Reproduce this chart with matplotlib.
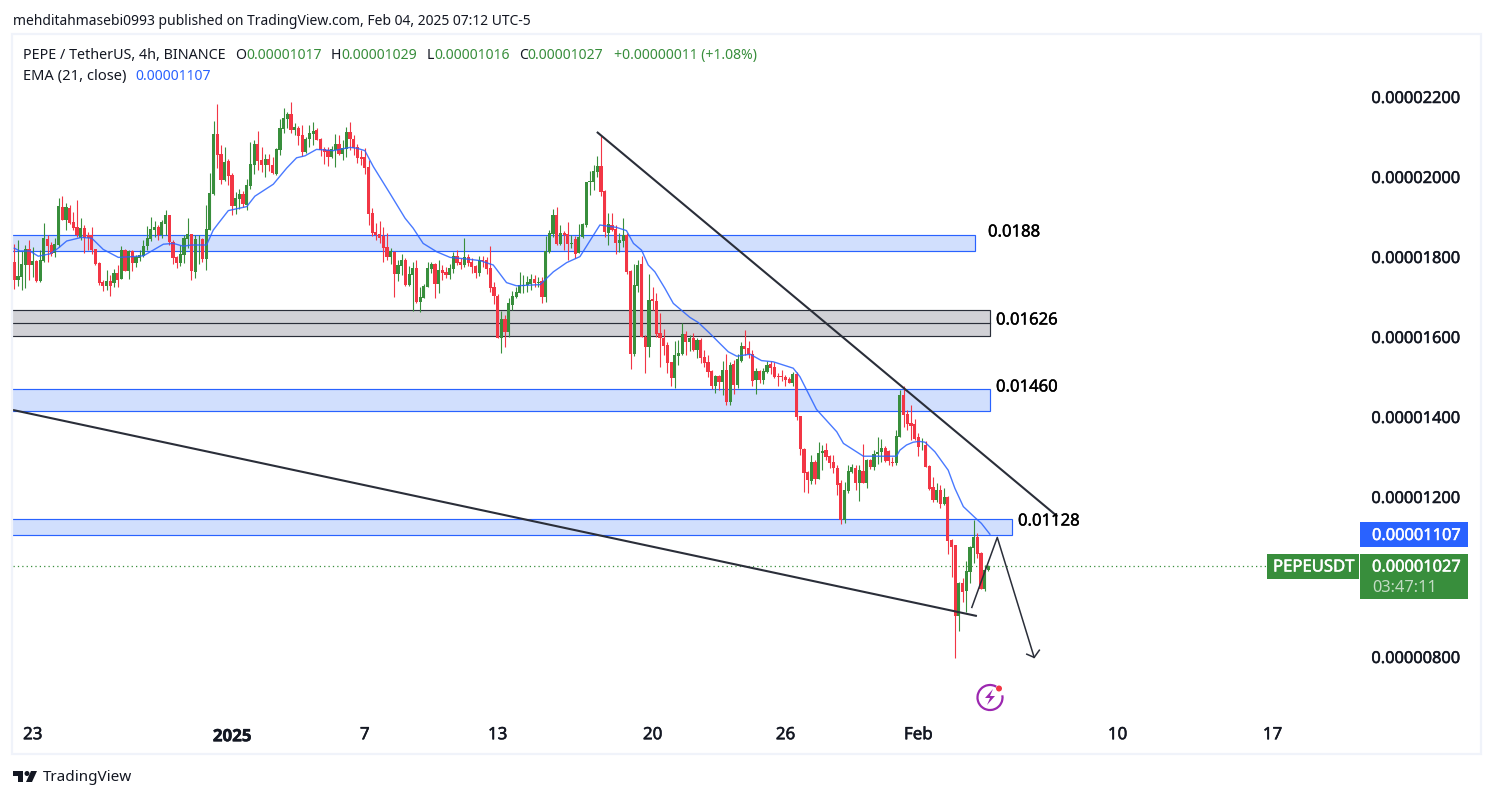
import matplotlib
matplotlib.use("Agg")
import numpy as np
import matplotlib.pyplot as plt
import matplotlib.patheffects as pe
from matplotlib.patches import Rectangle, Circle, Polygon, Arc

plt.rcParams['font.family'] = ['Noto Sans', 'DejaVu Sans']

# 4h candles, prices in units of 0.00000001
opens = [1788, 1742, 1751, 1780, 1820, 1780, 1790, 1740, 1790, 1845,
         1830, 1811, 1830, 1925, 1892, 1922, 1887, 1875, 1847, 1872,
         1854, 1854, 1820, 1785, 1737, 1727, 1740, 1735, 1760, 1745,
         1817, 1765, 1815, 1785, 1797, 1802, 1827, 1845, 1867, 1875,
         1854, 1882, 1905, 1837, 1800, 1785, 1805, 1845, 1857, 1762,
         1844, 1845, 1795, 1867, 1957, 2107, 2057, 1992, 2040, 2005,
         1927, 1945, 1957, 1930, 1977, 2030, 2082, 2042, 2030, 2045,
         2030, 2007, 2067, 2120, 2145, 2157, 2117, 2122, 2105, 2062,
         2095, 2107, 2117, 2095, 2069, 2067, 2050, 2067, 2082, 2057,
         2070, 2112, 2095, 2075, 2050, 2050, 2025, 1910, 1862, 1857,
         1852, 1825, 1800, 1812, 1757, 1777, 1792, 1730, 1755, 1772,
         1687, 1697, 1725, 1770, 1782, 1732, 1767, 1762, 1755, 1770,
         1802, 1787, 1780, 1800, 1787, 1777, 1760, 1792, 1792, 1772,
         1725, 1702, 1597, 1645, 1612, 1680, 1700, 1710, 1727, 1730,
         1732, 1745, 1736, 1740, 1700, 1812, 1857, 1905, 1832, 1860,
         1857, 1832, 1845, 1810, 1850, 1880, 1987, 1987, 2012, 2027,
         1965, 1860, 1880, 1870, 1835, 1840, 1855, 1765, 1557, 1727,
         1782, 1600, 1575, 1695, 1690, 1610, 1597, 1580, 1537, 1497,
         1552, 1557, 1607, 1587, 1597, 1567, 1592, 1550, 1537, 1515,
         1477, 1502, 1487, 1517, 1437, 1532, 1480, 1540, 1577, 1572,
         1557, 1492, 1515, 1492, 1512, 1532, 1525, 1502, 1502, 1500,
         1495, 1485, 1507, 1402, 1320, 1262, 1240, 1287, 1245, 1310,
         1317, 1302, 1287, 1272, 1235, 1142, 1215, 1262, 1272, 1235,
         1265, 1235, 1292, 1275, 1307, 1312, 1322, 1315, 1287, 1285,
         1350, 1455, 1407, 1385, 1382, 1350, 1329, 1330, 1277, 1225,
         1192, 1217, 1182, 1200, 1092, 1079, 902, 985, 965, 1012,
         1072, 1100, 1060, 970, 1017]
highs = [1832, 1842, 1814, 1830, 1842, 1826, 1792, 1817, 1885, 1854,
         1838, 1847, 1947, 1952, 1934, 1930, 1912, 1942, 1897, 1880,
         1862, 1875, 1820, 1787, 1742, 1767, 1755, 1770, 1780, 1827,
         1820, 1817, 1817, 1805, 1817, 1842, 1877, 1900, 1890, 1880,
         1892, 1917, 1905, 1842, 1802, 1830, 1855, 1897, 1857, 1855,
         1855, 1848, 1930, 2010, 2140, 2182, 2080, 2075, 2045, 2009,
         1963, 1970, 1965, 1995, 2087, 2092, 2115, 2075, 2057, 2057,
         2051, 2072, 2145, 2172, 2162, 2187, 2134, 2127, 2130, 2101,
         2130, 2137, 2122, 2097, 2076, 2076, 2077, 2107, 2105, 2092,
         2125, 2137, 2105, 2082, 2067, 2072, 2042, 1922, 1884, 1890,
         1876, 1860, 1822, 1814, 1792, 1807, 1797, 1777, 1787, 1792,
         1726, 1732, 1787, 1787, 1785, 1792, 1780, 1776, 1782, 1813,
         1817, 1797, 1847, 1807, 1797, 1780, 1802, 1802, 1801, 1827,
         1738, 1707, 1665, 1655, 1697, 1715, 1726, 1762, 1755, 1752,
         1757, 1755, 1751, 1751, 1852, 1867, 1920, 1925, 1880, 1864,
         1887, 1855, 1852, 1882, 1885, 1987, 2015, 2030, 2052, 2102,
         1967, 1909, 1910, 1880, 1859, 1897, 1860, 1767, 1782, 1792,
         1802, 1605, 1757, 1725, 1709, 1660, 1620, 1588, 1538, 1590,
         1592, 1635, 1615, 1605, 1609, 1597, 1597, 1567, 1555, 1517,
         1505, 1505, 1540, 1557, 1538, 1542, 1557, 1587, 1617, 1590,
         1567, 1522, 1517, 1522, 1540, 1540, 1537, 1509, 1517, 1505,
         1501, 1512, 1512, 1402, 1322, 1265, 1305, 1292, 1337, 1330,
         1335, 1305, 1305, 1280, 1242, 1237, 1280, 1282, 1280, 1280,
         1332, 1295, 1295, 1317, 1350, 1345, 1327, 1317, 1301, 1367,
         1467, 1477, 1417, 1430, 1394, 1359, 1347, 1340, 1280, 1251,
         1234, 1230, 1222, 1202, 1094, 1081, 988, 997, 1039, 1077,
         1142, 1109, 1063, 1030, 1029]
lows = [1720, 1727, 1718, 1723, 1742, 1751, 1737, 1738, 1787, 1787,
        1802, 1801, 1826, 1892, 1867, 1882, 1867, 1851, 1842, 1809,
        1817, 1807, 1780, 1730, 1715, 1717, 1702, 1726, 1726, 1745,
        1765, 1745, 1765, 1775, 1790, 1801, 1817, 1840, 1851, 1842,
        1847, 1855, 1830, 1782, 1772, 1777, 1784, 1822, 1742, 1747,
        1782, 1787, 1767, 1867, 1955, 2022, 1982, 1990, 1980, 1905,
        1907, 1920, 1926, 1917, 1970, 2007, 2017, 2012, 2001, 2015,
        2007, 2005, 2055, 2109, 2122, 2109, 2105, 2080, 2052, 2059,
        2076, 2080, 2092, 2052, 2032, 2027, 2047, 2026, 2055, 2042,
        2051, 2067, 2055, 2034, 2030, 2007, 1880, 1852, 1842, 1834,
        1787, 1792, 1782, 1700, 1740, 1755, 1727, 1727, 1665, 1685,
        1662, 1697, 1725, 1759, 1697, 1710, 1742, 1747, 1745, 1759,
        1780, 1770, 1775, 1777, 1760, 1747, 1752, 1776, 1757, 1712,
        1682, 1597, 1560, 1575, 1600, 1667, 1698, 1709, 1709, 1712,
        1717, 1726, 1726, 1685, 1687, 1809, 1851, 1830, 1830, 1817,
        1792, 1822, 1797, 1809, 1847, 1876, 1955, 1967, 2001, 1952,
        1851, 1830, 1866, 1807, 1813, 1826, 1757, 1520, 1552, 1712,
        1600, 1510, 1550, 1667, 1601, 1525, 1555, 1510, 1477, 1472,
        1530, 1555, 1555, 1566, 1565, 1547, 1536, 1524, 1501, 1469,
        1460, 1467, 1455, 1430, 1430, 1457, 1472, 1537, 1555, 1547,
        1477, 1457, 1484, 1482, 1509, 1507, 1497, 1477, 1490, 1477,
        1485, 1477, 1392, 1305, 1212, 1210, 1232, 1232, 1245, 1267,
        1292, 1272, 1260, 1205, 1132, 1135, 1209, 1260, 1217, 1190,
        1235, 1223, 1269, 1267, 1282, 1288, 1288, 1280, 1277, 1280,
        1350, 1376, 1367, 1342, 1342, 1302, 1317, 1276, 1217, 1187,
        1188, 1172, 1180, 1057, 1001, 797, 865, 937, 912, 984,
        1036, 1047, 970, 966, 1016]
closes = [1742, 1752, 1782, 1820, 1780, 1790, 1740, 1792, 1847, 1827,
          1807, 1832, 1927, 1892, 1925, 1885, 1872, 1854, 1872, 1847,
          1847, 1817, 1782, 1735, 1727, 1740, 1727, 1760, 1742, 1817,
          1765, 1815, 1785, 1799, 1805, 1827, 1847, 1870, 1875, 1854,
          1887, 1905, 1837, 1797, 1785, 1807, 1847, 1857, 1765, 1845,
          1845, 1795, 1870, 1960, 2107, 2055, 1992, 2037, 2002, 1927,
          1947, 1957, 1932, 1980, 2032, 2082, 2040, 2030, 2045, 2030,
          2010, 2070, 2122, 2147, 2157, 2117, 2125, 2102, 2062, 2095,
          2110, 2115, 2092, 2067, 2062, 2050, 2070, 2082, 2057, 2072,
          2112, 2095, 2072, 2047, 2045, 2022, 1907, 1860, 1855, 1847,
          1822, 1800, 1815, 1757, 1780, 1792, 1730, 1757, 1772, 1687,
          1700, 1727, 1772, 1782, 1732, 1767, 1760, 1755, 1772, 1802,
          1785, 1780, 1800, 1785, 1775, 1760, 1792, 1791, 1770, 1722,
          1702, 1597, 1645, 1612, 1685, 1702, 1712, 1730, 1730, 1737,
          1745, 1735, 1737, 1700, 1815, 1860, 1905, 1832, 1860, 1855,
          1832, 1835, 1807, 1850, 1882, 1987, 1990, 2015, 2027, 1962,
          1862, 1882, 1867, 1835, 1842, 1855, 1762, 1557, 1730, 1780,
          1600, 1575, 1692, 1690, 1607, 1597, 1577, 1535, 1497, 1555,
          1560, 1607, 1587, 1597, 1567, 1592, 1547, 1535, 1512, 1477,
          1502, 1487, 1517, 1437, 1530, 1480, 1545, 1577, 1570, 1557,
          1490, 1515, 1492, 1515, 1530, 1522, 1500, 1501, 1500, 1492,
          1485, 1507, 1400, 1320, 1260, 1242, 1287, 1245, 1310, 1315,
          1300, 1285, 1272, 1230, 1142, 1217, 1265, 1275, 1235, 1267,
          1235, 1292, 1275, 1307, 1312, 1322, 1290, 1290, 1286, 1352,
          1455, 1405, 1382, 1377, 1345, 1325, 1331, 1276, 1220, 1192,
          1217, 1182, 1200, 1090, 1074, 902, 985, 962, 1015, 1075,
          1100, 1057, 970, 1017, 1027]

# EMA 21, at candle positions
ema_pos = [0, 1.5, 4.2, 6.5, 9.7, 11.9, 14.2, 18.2, 21, 24.1, 28.2, 32.2, 35, 40.4, 43.1,
           45.8, 48, 52.1, 53.9, 55.3, 58, 63, 65.2, 70.2, 73.8, 76.5, 78.8, 81.9, 86.5, 91,
           92.8, 95, 97.3, 101.8, 105.9, 108.1, 110.8, 114.5, 118.1, 122.6, 126.2, 129.8,
           133.4, 136.1, 142.5, 146.1, 149.7, 153.3, 158.7, 163.2, 165.9, 167.8, 170, 171.8,
           173.6, 176.3, 178.6, 183.1, 185.4, 188.5, 191.2, 193.5, 195.8, 199.4, 202.5, 205.7,
           211.1, 212.9, 217.4, 222.9, 224.7, 230.1, 239.1, 240, 241.8, 243.6, 245.3, 246.8,
           249.5, 253.1, 254.9, 257.2, 260.3, 262.1, 264.4]
ema_vals = [1822, 1815, 1815, 1802, 1808, 1822, 1840, 1849, 1847, 1819, 1799, 1801, 1803, 1832, 1834,
            1827, 1830, 1830, 1867, 1884, 1916, 1926, 1952, 1982, 2022, 2048, 2053, 2069, 2066, 2074,
            2072, 2066, 2026, 1959, 1897, 1872, 1834, 1813, 1799, 1795, 1791, 1780,
            1736, 1728, 1731, 1763, 1786, 1801, 1880, 1874, 1866, 1834, 1817, 1780,
            1763, 1722, 1684, 1649, 1636, 1609, 1584, 1563, 1552, 1557, 1541, 1538,
            1522, 1501, 1419, 1363, 1334, 1302, 1302, 1317, 1330, 1337, 1339, 1337,
            1313, 1267, 1222, 1176, 1149, 1134, 1107]

# drawings on the chart
zone_tops = [1854, 1667, 1469, 1144]
zone_bottoms = [1814, 1602, 1416, 1106]
zone_ends = [260.4, 264.5, 264.5, 270.4]
zone_mid = 1634
zone_labels = ['0.0188', '0.01626', '0.01460', '0.01128']
trend_upper_x, trend_upper_y = [158.1, 282.5], [2111, 1153]
trend_lower_x, trend_lower_y = [-0.1, 260.6], [1417, 903]
path_x, path_y = [259.5, 266.4, 276.4], [924, 1099, 799]
head_x, head_y = [274.4, 276.4, 277.8], [807, 799, 817]

price_ticks = [2200, 2000, 1800, 1600, 1400, 1200, 800]
date_pos = [5, 59, 95, 131, 173, 209, 245, 299, 341]
date_labels = ['23', '2025', '7', '13', '20', '26', 'Feb', '10', '17']

last_price = 1027
last_ema = 1107
unit = 1e-8

UP = '#388e3c'
DOWN = '#f23645'
BLUE = '#2962ff'
DARK = '#2a2e39'
INK = '#131722'

W, H = 1494, 798
fig = plt.figure(figsize=(W / 100, H / 100), dpi=100, facecolor='white')

# chart pane, x=13..1360 and y=35..715 in image pixels
ax = fig.add_axes([13 / W, 1 - 715 / H, 1347 / W, 680 / H])
ax.set_xlim(-0.35, 364.7)
ax.set_ylim(655 * unit, 2355 * unit)
for s in ax.spines.values():
    s.set_visible(False)

x = np.arange(len(opens))
o, h, l, c = [np.array(v) * unit for v in (opens, highs, lows, closes)]
colors = [UP if b >= a else DOWN for a, b in zip(o, c)]

# zones
for top, bot, end in zip(zone_tops, zone_bottoms, zone_ends):
    grey = top == 1667
    ax.add_patch(Rectangle((-5, bot * unit), end + 5, (top - bot) * unit,
                           fc='#d1d1d6' if grey else '#d1dffd',
                           ec=DARK if grey else BLUE, lw=0.85, zorder=1))
ax.plot([-5, zone_ends[1]], [zone_mid * unit] * 2, color=DARK, lw=0.85, zorder=1)

ax.axhline(last_price * unit, color=UP, lw=0.9, ls=(0, (1, 2.5)), zorder=1.5)

ax.vlines(x, l, h, colors=colors, lw=0.8, zorder=2)
ax.bar(x, np.abs(c - o), bottom=np.minimum(o, c), width=0.86, color=colors, lw=0, zorder=3)
ax.plot(ema_pos, np.array(ema_vals) * unit, color=BLUE, lw=1, alpha=0.85, zorder=4)

ax.plot(trend_upper_x, np.array(trend_upper_y) * unit, color=DARK, lw=1.5, zorder=5)
ax.plot(trend_lower_x, np.array(trend_lower_y) * unit, color=DARK, lw=1.5, zorder=5)
ax.plot(path_x, np.array(path_y) * unit, color=DARK, lw=1.1, zorder=5)
ax.plot(head_x, np.array(head_y) * unit, color=DARK, lw=1.1, zorder=5)


def heavy(color, w=0.35):
    return [pe.withStroke(linewidth=w, foreground=color)]


ax.yaxis.tick_right()
ax.set_yticks(np.array(price_ticks) * unit)
ax.set_yticklabels(['%.8f' % (p * unit) for p in price_ticks], fontsize=11.8, color=INK,
                   path_effects=heavy(INK))
ax.set_xticks(date_pos)
ax.set_xticklabels(date_labels, fontsize=12.2, color=INK, path_effects=heavy(INK))
year_label = ax.get_xticklabels()[1]
year_label.set_fontfamily('Open Sans')
year_label.set_fontweight('bold')
ax.tick_params(axis='y', length=0, pad=8.2)
ax.tick_params(axis='x', length=0, pad=8.8)

# everything around the chart, placed in image pixels
ov = fig.add_axes([0, 0, 1, 1], facecolor='none')
ov.set_xlim(0, W)
ov.set_ylim(H, 0)
ov.axis('off')

ov.add_patch(Rectangle((12, 34), 1469, 720, fc='none', ec='#f0f3fa', lw=1.6))


def label(px, py, s, size=10.1, color=INK, **kw):
    ov.text(px, py + 1.5, s, fontsize=size, color=color, va='center', ha=kw.pop('ha', 'left'), **kw)


label(13, 20, 'mehditahmasebi0993 published on TradingView.com, Feb 04, 2025 07:12 UTC-5', size=10)
label(23, 54, 'PEPE / TetherUS, 4h, BINANCE', size=10.3)
for px, s in zip([235, 331, 427, 519], 'OHLC'):
    label(px, 54, s)
for px, s in zip([246, 341, 434, 527, 614],
                 ['0.00001017', '0.00001029', '0.00001016', '0.00001027', '+0.00000011 (+1.08%)']):
    label(px, 54, s, color=UP)
label(23, 75, 'EMA (21, close)', size=10.6)
label(135, 75, '%.8f' % (last_ema * unit), color=BLUE)

for px, py, s in zip([988, 996, 996, 1018], [231, 319, 386, 520], zone_labels):
    label(px, py, s, size=12, color='black', path_effects=heavy('black', 0.3))

# price tags
ov.add_patch(Rectangle((1360, 522), 108, 25, fc=BLUE, lw=0))
label(1372, 534.5, '%.8f' % (last_ema * unit), size=11.8, color='white', path_effects=heavy('white'))
ov.add_patch(Rectangle((1267, 554), 92, 25, fc=UP, lw=0))
label(1273, 566, 'PEPEUSDT', size=12, color='white', path_effects=heavy('white'))
ov.add_patch(Rectangle((1360, 554), 108, 45, fc=UP, lw=0))
label(1372, 566, '%.8f' % (last_price * unit), size=11.8, color='white', path_effects=heavy('white'))
label(1372, 586, '03:47:11', size=11.8, color='#c3dcc4')

# lightning badge
ov.add_patch(Arc((990, 697.5), 25, 25, theta1=-10, theta2=300, color='#9c27b0', lw=1.6))
ov.add_patch(Polygon([(993, 689), (985, 698), (990, 698), (987, 705), (995, 696), (990, 696)],
                     fc='#9c27b0', ec='none'))
ov.add_patch(Circle((999, 688.5), 3, fc='#f23645', ec='none'))

# TradingView logo
ov.add_patch(Polygon([(13, 771), (23, 771), (23, 782), (18, 782), (18, 776), (13, 776)], fc=INK, ec='none'))
ov.add_patch(Circle((27, 773.5), 2.5, fc=INK, ec='none'))
ov.add_patch(Polygon([(31, 771), (37, 771), (32, 782), (26, 782)], fc=INK, ec='none'))
label(43, 776, 'TradingView', size=11, color=INK)

fig.savefig('out.png', dpi=100)
